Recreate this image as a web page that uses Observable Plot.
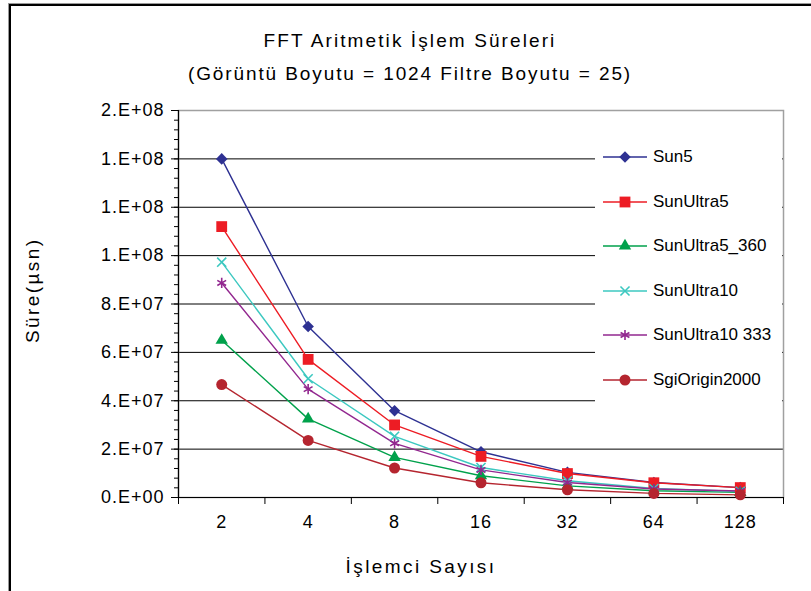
<!DOCTYPE html>
<html>
<head>
<meta charset="utf-8">
<script src="https://cdn.jsdelivr.net/npm/d3@7"></script>
<script src="https://cdn.jsdelivr.net/npm/@observablehq/plot@0.6"></script>
<style>
  html, body { margin: 0; padding: 0; background: #fff; }
  #wrap { position: relative; width: 811px; height: 591px; overflow: hidden; font-family: "Liberation Sans", Arial, sans-serif; }
  #border { position: absolute; left: 9px; top: 4px; width: 820px; height: 600px; border-top: 2px solid #000; border-left: 2px solid #000; box-shadow: -1px -1px 0 #999; }
  #head { position: relative; height: 100px; text-align: center; color: #000; }
  #head .t1 { position: absolute; left: 0; width: 820px; top: 30px; font-size: 19px; letter-spacing: 2.1px; }
  #head .t2 { position: absolute; left: 0; width: 820px; top: 63px; font-size: 19px; letter-spacing: 1.9px; }
  #legend { position: absolute; left: 595px; top: 133px; width: 187px; height: 275px; background: #fff; }
  .item { position: absolute; left: 8px; height: 20px; display: flex; align-items: center; font-size: 17px; white-space: nowrap; }
  .item svg { margin-right: 6px; }
  #chart svg { display: block; }
</style>
</head>
<body>
<div id="wrap">
  <div id="border"></div>
  <div id="head">
    <div class="t1">FFT Aritmetik İşlem Süreleri</div>
    <div class="t2">(Görüntü Boyutu = 1024 Filtre Boyutu = 25)</div>
  </div>
  <div id="chart"></div>
  <div id="legend"></div>
</div>
<script>
// ---- data ----
const categories = ["2", "4", "8", "16", "32", "64", "128"];
const seriesNames = ["Sun5", "SunUltra5", "SunUltra5_360", "SunUltra10", "SunUltra10 333", "SgiOrigin2000"];
const sun5          = [1.40e8, 7.07e7, 3.59e7, 1.89e7, 1.04e7, 6.2e6, 4.1e6];
const sunUltra5     = [1.12e8, 5.71e7, 3.00e7, 1.70e7, 9.9e6, 6.1e6, 4.1e6];
const sunUltra5_360 = [6.50e7, 3.25e7, 1.66e7, 9.0e6, 4.8e6, 2.8e6, 2.1e6];
const sunUltra10    = [9.73e7, 4.91e7, 2.53e7, 1.24e7, 6.9e6, 3.7e6, 2.5e6];
const sunUltra10_333= [8.87e7, 4.48e7, 2.24e7, 1.14e7, 6.2e6, 3.5e6, 2.7e6];
const sgiOrigin2000 = [4.67e7, 2.36e7, 1.22e7, 6.1e6, 3.2e6, 1.7e6, 1.1e6];
const yTickValues = [0, 2e7, 4e7, 6e7, 8e7, 1e8, 1.2e8, 1.4e8, 1.6e8];
const yTickLabels = ["0.E+00", "2.E+07", "4.E+07", "6.E+07", "8.E+07", "1.E+08", "1.E+08", "1.E+08", "2.E+08"];
const yTitle = "Süre(µsn)";
const xTitle = "İşlemci Sayısı";

// ---- styling ----
const seriesValues = [sun5, sunUltra5, sunUltra5_360, sunUltra10, sunUltra10_333, sgiOrigin2000];
const seriesColors = ["#2E3192", "#ED1C24", "#00A14B", "#3CC8C0", "#92278F", "#B5252F"];
const seriesSymbols = ["diamond2", "square", "triangle", "times", "asterisk", "circle"];
const seriesFilled = [true, true, true, false, false, true];
const seriesR = [5.2, 6.1, 4.6, 4.2, 4.8, 5.5];

const rows = [];
seriesNames.forEach((s, k) => seriesValues[k].forEach((v, i) => rows.push({series: s, i, cat: categories[i], v})));

const n = categories.length;
const boundaries = d3.range(-0.5, n, 1);
const centers = d3.range(0, n);
const minor = d3.range(0, 1.6e8 + 1, 4e6);
const font = "'Liberation Sans', Arial, sans-serif";

const marks = [
  Plot.ruleY(yTickValues.slice(1, -1), {stroke: "#000", strokeWidth: 1}),
  Plot.frame({stroke: "#a0a0a0", strokeWidth: 1.5}),
  Plot.axisY(minor, {tickSize: 4, tickFormat: () => "", label: null, stroke: "#000"}),
  Plot.axisY(yTickValues, {tickSize: 7, tickPadding: 7, tickFormat: (d, i) => yTickLabels[i], fontSize: 18, label: null, stroke: "#000"}),
  Plot.axisX(boundaries, {tickSize: 7, tickFormat: () => "", label: null, stroke: "#000"}),
  Plot.axisX(centers, {tickSize: 0, tickPadding: 18, tickFormat: i => categories[i], fontSize: 18, label: null}),
  Plot.ruleY([0], {stroke: "#000", strokeWidth: 1.2}),
  Plot.ruleX([-0.5], {stroke: "#000", strokeWidth: 1.2}),
  Plot.text([yTitle], {frameAnchor: "left", rotate: -90, dx: -146, dy: 39, fontSize: 19, fill: "#000"}),
  Plot.text([xTitle], {frameAnchor: "bottom", dx: -60, dy: 75, fontSize: 19, fill: "#000"})
];
seriesNames.forEach((s, k) => {
  const data = rows.filter(d => d.series === s);
  marks.push(Plot.line(data, {x: "i", y: "v", stroke: seriesColors[k], strokeWidth: 1.4}));
});
seriesNames.forEach((s, k) => {
  const data = rows.filter(d => d.series === s);
  marks.push(Plot.dot(data, {
    x: "i", y: "v", symbol: seriesSymbols[k], r: seriesR[k],
    fill: seriesFilled[k] ? seriesColors[k] : "none",
    stroke: seriesFilled[k] ? "none" : seriesColors[k],
    strokeWidth: 1.6
  }));
});

const chart = Plot.plot({
  width: 811, height: 491,
  marginLeft: 178, marginRight: 28, marginTop: 10, marginBottom: 94,
  style: {fontFamily: font, fontSize: "17px", color: "#000", background: "transparent", overflow: "visible"},
  x: {type: "linear", domain: [-0.5, n - 0.5], axis: null},
  y: {domain: [0, 1.6e8], axis: null},
  marks
});
chart.querySelectorAll("text").forEach(t => t.setAttribute("letter-spacing", "1"));
chart.querySelectorAll("g[aria-label='text'] text").forEach(t => t.setAttribute("letter-spacing", "2.4"));
document.getElementById("chart").appendChild(chart);

// ---- legend ----
const legend = document.getElementById("legend");
const rowTops = [14, 59, 103, 148, 192, 237];
seriesNames.forEach((s, k) => {
  const item = document.createElement("div");
  item.className = "item";
  item.style.top = rowTops[k] + "px";
  const symMap = {diamond2: d3.symbolDiamond2, square: d3.symbolSquare, triangle: d3.symbolTriangle, times: d3.symbolTimes, asterisk: d3.symbolAsterisk, circle: d3.symbolCircle};
  const path = d3.symbol(symMap[seriesSymbols[k]], Math.PI * seriesR[k] * seriesR[k])();
  const c = seriesColors[k];
  item.innerHTML = `<svg width="44" height="20"><line x1="0" x2="44" y1="10" y2="10" stroke="${c}" stroke-width="1.4"/>` +
    `<path transform="translate(22,10)" d="${path}" fill="${seriesFilled[k] ? c : "none"}" stroke="${seriesFilled[k] ? "none" : c}" stroke-width="1.6"/></svg>` +
    `<span>${s}</span>`;
  legend.appendChild(item);
});
</script>
</body>
</html>
